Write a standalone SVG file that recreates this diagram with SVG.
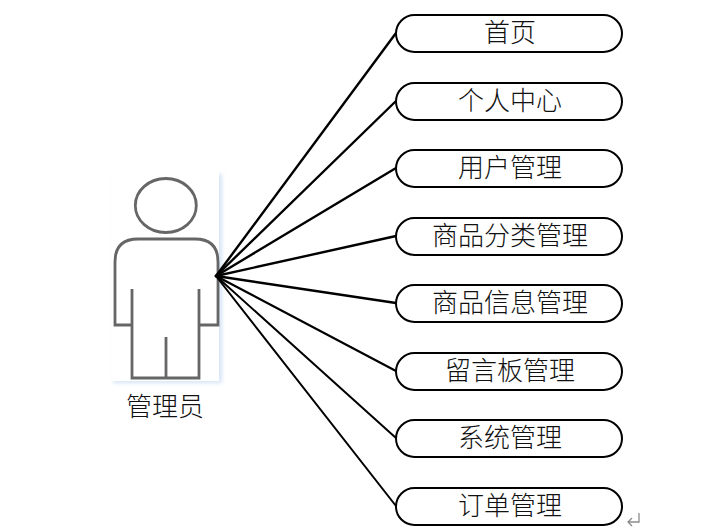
<svg xmlns="http://www.w3.org/2000/svg" width="720" height="530" viewBox="0 0 720 530">
<defs>
<style>
.n{fill:#fff;stroke:#000;stroke-width:2}
.t{font-family:"Noto Sans CJK SC","Liberation Serif",serif;font-size:26px;font-weight:300;fill:#111;text-anchor:middle}
.c{stroke:#000;fill:none}
.a{fill:none;stroke:#666;stroke-width:2.8}
</style>
<filter id="soft" x="-10%" y="-10%" width="120%" height="120%"><feGaussianBlur stdDeviation="0.75"/></filter>
<filter id="glow" x="-10%" y="-10%" width="120%" height="120%"><feGaussianBlur stdDeviation="2"/></filter>
</defs>
<rect width="720" height="530" fill="#fff"/>
<g id="actor">
<rect x="113" y="174" width="109" height="209" fill="#d6e4f5" filter="url(#glow)"/>
<rect x="111" y="170" width="108" height="211" fill="#fff"/>
<g filter="url(#soft)">
<ellipse class="a" cx="165.8" cy="205.5" rx="30.5" ry="27"/>
<path class="a" d="M132 325H115V262Q115 239 138 239H195Q218 239 218 262V325H199M132 289V378H199V289M166 337V378"/>
</g>
<text class="t" x="165" y="416">管理员</text>
</g>
<g id="connectors" stroke-linecap="round">
<path class="c" stroke-width="2.4" d="M216 276L396 33"/>
<path class="c" stroke-width="2.4" d="M216 276L396 101"/>
<path class="c" stroke-width="2.4" d="M216 276L396 168"/>
<path class="c" stroke-width="2.4" d="M216 276L396 236"/>
<path class="c" stroke-width="2.4" d="M216 276L396 303"/>
<path class="c" stroke-width="2.2" d="M216 276L396 371"/>
<path class="c" stroke-width="2" d="M216 276L396 438"/>
<path class="c" stroke-width="2" d="M216 276L396 506"/>
</g>
<g id="n1"><rect class="n" x="396" y="15" width="226" height="37" rx="18.5"/><text class="t" x="510" y="42">首页</text></g>
<g id="n2"><rect class="n" x="396" y="83" width="226" height="37" rx="18.5"/><text class="t" x="510" y="110">个人中心</text></g>
<g id="n3"><rect class="n" x="396" y="150" width="226" height="37" rx="18.5"/><text class="t" x="510" y="177">用户管理</text></g>
<g id="n4"><rect class="n" x="396" y="218" width="226" height="37" rx="18.5"/><text class="t" x="510" y="245">商品分类管理</text></g>
<g id="n5"><rect class="n" x="396" y="285" width="226" height="37" rx="18.5"/><text class="t" x="510" y="312">商品信息管理</text></g>
<g id="n6"><rect class="n" x="396" y="353" width="226" height="37" rx="18.5"/><text class="t" x="510" y="380">留言板管理</text></g>
<g id="n7"><rect class="n" x="396" y="420" width="226" height="37" rx="18.5"/><text class="t" x="510" y="447">系统管理</text></g>
<g id="n8"><rect class="n" x="396" y="488" width="226" height="37" rx="18.5"/><text class="t" x="510" y="515">订单管理</text></g>
<path d="M639 513V522H628M632 518L628 522L632 526" fill="none" stroke="#8c8c8c" stroke-width="1.3"/>
</svg>
